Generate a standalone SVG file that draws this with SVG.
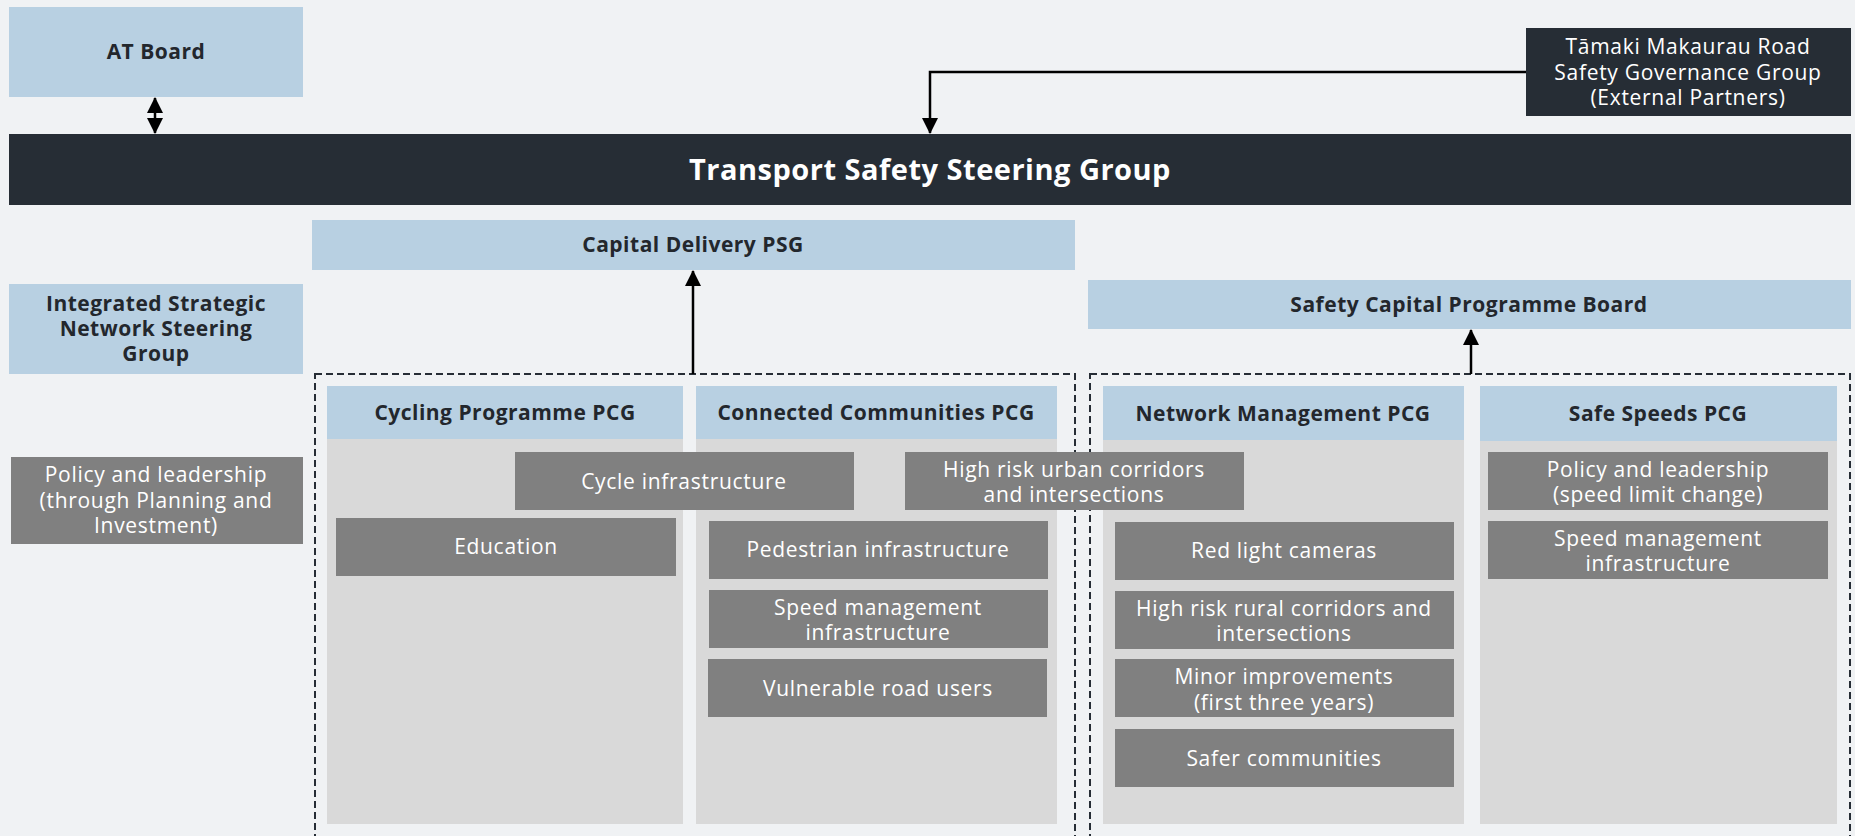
<svg xmlns="http://www.w3.org/2000/svg" width="1855" height="836" viewBox="0 0 1855 836">
  <defs>
    <style>
      .bg { fill: #f0f2f4; }
      .blue { fill: #b8d0e2; }
      .dark { fill: #262d35; }
      .col { fill: #d9d9d9; }
      .item { fill: #808080; }
      .hd { font-family: "Open Sans", "Liberation Sans", sans-serif; font-weight: 700; font-size: 21px; letter-spacing: 0.5px; fill: #23272d; text-anchor: middle; }
      .tx { font-family: "Open Sans", "Liberation Sans", sans-serif; font-size: 21px; letter-spacing: 0.7px; fill: #ffffff; text-anchor: middle; }
      .title { font-family: "Open Sans", "Liberation Sans", sans-serif; font-weight: 700; font-size: 29px; letter-spacing: 0.5px; fill: #ffffff; text-anchor: middle; }
      .link { fill: none; stroke: #000000; stroke-width: 2.5; }
      .dash { fill: none; stroke: #262d35; stroke-width: 2; stroke-dasharray: 7 4; }
    </style>
    <marker id="head" viewBox="0 0 16 16" refX="15" refY="8" markerWidth="16" markerHeight="16" markerUnits="userSpaceOnUse" orient="auto-start-reverse">
      <path d="M0,0 L16,8 L0,16 z" fill="#000000"/>
    </marker>
  </defs>

  <rect class="bg" x="0" y="0" width="1855" height="836"/>

  <!-- dashed programme frames -->
  <g id="frames">
    <rect class="dash" x="315" y="374" width="760" height="480"/>
    <rect class="dash" x="1090" y="374" width="760" height="480"/>
  </g>

  <g id="at-board">
    <rect class="blue" x="9" y="7" width="294" height="90"/>
    <text class="hd" x="156" y="59">AT Board</text>
  </g>

  <g id="external-partners">
    <rect class="dark" x="1526" y="28" width="325" height="88"/>
    <text class="tx" x="1688" y="54">Tāmaki Makaurau Road</text>
    <text class="tx" x="1688" y="80">Safety Governance Group</text>
    <text class="tx" x="1688" y="105">(External Partners)</text>
  </g>

  <g id="steering-group">
    <rect class="dark" x="9" y="134" width="1842" height="71"/>
    <text class="title" x="930" y="180">Transport Safety Steering Group</text>
  </g>

  <g id="capital-delivery-psg">
    <rect class="blue" x="312" y="220" width="763" height="50"/>
    <text class="hd" x="693" y="252">Capital Delivery PSG</text>
  </g>

  <g id="integrated-strategic">
    <rect class="blue" x="9" y="284" width="294" height="90"/>
    <text class="hd" x="156" y="311">Integrated Strategic</text>
    <text class="hd" x="156" y="336">Network Steering</text>
    <text class="hd" x="156" y="361">Group</text>
  </g>

  <g id="safety-capital-board">
    <rect class="blue" x="1088" y="280" width="763" height="49"/>
    <text class="hd" x="1469" y="312">Safety Capital Programme Board</text>
  </g>

  <g id="policy-planning">
    <rect class="item" x="11" y="457" width="292" height="87"/>
    <text class="tx" x="156" y="482">Policy and leadership</text>
    <text class="tx" x="156" y="508">(through Planning and</text>
    <text class="tx" x="156" y="533">Investment)</text>
  </g>

  <!-- programme columns -->
  <g id="cycling-pcg">
    <rect class="col" x="327" y="386" width="356" height="438"/>
    <rect class="blue" x="327" y="386" width="356" height="53"/>
    <text class="hd" x="505" y="420">Cycling Programme PCG</text>
  </g>
  <g id="connected-communities-pcg">
    <rect class="col" x="696" y="386" width="361" height="438"/>
    <rect class="blue" x="696" y="386" width="361" height="53"/>
    <text class="hd" x="876" y="420">Connected Communities PCG</text>
  </g>
  <g id="network-management-pcg">
    <rect class="col" x="1103" y="386" width="361" height="438"/>
    <rect class="blue" x="1103" y="386" width="361" height="54"/>
    <text class="hd" x="1283" y="421">Network Management PCG</text>
  </g>
  <g id="safe-speeds-pcg">
    <rect class="col" x="1480" y="386" width="357" height="438"/>
    <rect class="blue" x="1480" y="386" width="357" height="55"/>
    <text class="hd" x="1658" y="421">Safe Speeds PCG</text>
  </g>

  <!-- work items -->
  <g id="cycle-infrastructure">
    <rect class="item" x="515" y="452" width="339" height="58"/>
    <text class="tx" x="684" y="489">Cycle infrastructure</text>
  </g>
  <g id="high-risk-urban">
    <rect class="item" x="905" y="452" width="339" height="58"/>
    <text class="tx" x="1074" y="477">High risk urban corridors</text>
    <text class="tx" x="1074" y="502">and intersections</text>
  </g>
  <g id="education">
    <rect class="item" x="336" y="518" width="340" height="58"/>
    <text class="tx" x="506" y="554">Education</text>
  </g>
  <g id="pedestrian-infrastructure">
    <rect class="item" x="709" y="521" width="339" height="58"/>
    <text class="tx" x="878" y="557">Pedestrian infrastructure</text>
  </g>
  <g id="speed-management-cc">
    <rect class="item" x="709" y="590" width="339" height="58"/>
    <text class="tx" x="878" y="615">Speed management</text>
    <text class="tx" x="878" y="640">infrastructure</text>
  </g>
  <g id="vulnerable-road-users">
    <rect class="item" x="708" y="659" width="339" height="58"/>
    <text class="tx" x="878" y="696">Vulnerable road users</text>
  </g>
  <g id="red-light-cameras">
    <rect class="item" x="1115" y="522" width="339" height="58"/>
    <text class="tx" x="1284" y="558">Red light cameras</text>
  </g>
  <g id="high-risk-rural">
    <rect class="item" x="1115" y="591" width="339" height="58"/>
    <text class="tx" x="1284" y="616">High risk rural corridors and</text>
    <text class="tx" x="1284" y="641">intersections</text>
  </g>
  <g id="minor-improvements">
    <rect class="item" x="1115" y="659" width="339" height="58"/>
    <text class="tx" x="1284" y="684">Minor improvements</text>
    <text class="tx" x="1284" y="710">(first three years)</text>
  </g>
  <g id="safer-communities">
    <rect class="item" x="1115" y="729" width="339" height="58"/>
    <text class="tx" x="1284" y="766">Safer communities</text>
  </g>
  <g id="policy-speed-limit">
    <rect class="item" x="1488" y="452" width="340" height="58"/>
    <text class="tx" x="1658" y="477">Policy and leadership</text>
    <text class="tx" x="1658" y="502">(speed limit change)</text>
  </g>
  <g id="speed-management-ss">
    <rect class="item" x="1488" y="521" width="340" height="58"/>
    <text class="tx" x="1658" y="546">Speed management</text>
    <text class="tx" x="1658" y="571">infrastructure</text>
  </g>

  <!-- connectors -->
  <g id="connectors">
    <line class="link" x1="155" y1="98" x2="155" y2="133" marker-start="url(#head)" marker-end="url(#head)"/>
    <polyline class="link" points="1526,72 930,72 930,133" marker-end="url(#head)"/>
    <line class="link" x1="693" y1="374" x2="693" y2="271" marker-end="url(#head)"/>
    <line class="link" x1="1471" y1="374" x2="1471" y2="330" marker-end="url(#head)"/>
  </g>
</svg>
